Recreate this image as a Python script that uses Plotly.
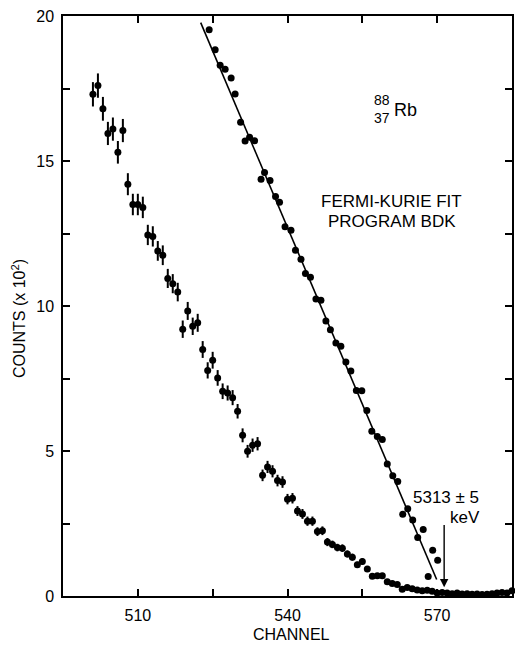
import plotly.graph_objects as go

# ---- data ----
spectrum_channels = list(range(501, 586))
spectrum_counts = [
    17.3, 17.6, 16.8, 15.95, 16.1, 15.3, 16.05, 14.2, 13.5, 13.5,
    13.4, 12.45, 12.4, 11.9, 11.75, 10.95, 10.77, 10.48, 9.2, 9.83,
    9.3, 9.42, 8.5, 7.78, 8.13, 7.52, 7.06, 7.0, 6.84, 6.37,
    5.54, 4.99, 5.2, 5.25, 4.16, 4.45, 4.3, 3.98, 3.93, 3.34,
    3.37, 2.93, 2.83, 2.58, 2.58, 2.22, 2.25, 1.86, 1.78, 1.67,
    1.65, 1.45, 1.34, 1.08, 1.19, 0.93, 0.68, 0.70, 0.70, 0.49,
    0.43, 0.40, 0.23, 0.29, 0.25, 0.21, 0.18, 0.20, 0.16, 0.10,
    0.12, 0.10, 0.08, 0.10, 0.07, 0.08, 0.06, 0.07, 0.05, 0.06,
    0.08, 0.10, 0.12, 0.10, 0.18,
]
spectrum_errors = [
    0.42, 0.42, 0.41, 0.40, 0.40, 0.39, 0.40, 0.38, 0.37, 0.37,
    0.37, 0.35, 0.35, 0.34, 0.34, 0.33, 0.33, 0.32, 0.30, 0.31,
    0.30, 0.31, 0.29, 0.28, 0.29, 0.27, 0.27, 0.26, 0.26, 0.25,
    0.24, 0.22, 0.23, 0.23, 0.20, 0.21, 0.21, 0.20, 0.20, 0.18,
    0.18, 0.17, 0.17, 0.16, 0.16, 0.15, 0.15, 0.14, 0.13, 0.13,
    0.13, 0.12, 0.12, 0.10, 0.11, 0.10, 0.08, 0.08, 0.08, 0.07,
    0.07, 0.06, 0.05, 0.05, 0.05, 0.05, 0.04, 0.04, 0.04, 0.03,
    0.03, 0.03, 0.03, 0.03, 0.03, 0.03, 0.03, 0.03, 0.03, 0.03,
    0.03, 0.03, 0.03, 0.03, 0.03,
]

kurie_channels = [
    524.3, 525.5, 526.5, 527.5, 528.7, 529.5, 530.6, 531.5, 532.4, 533.4,
    534.7, 535.4, 536.5, 537.6, 538.4, 539.5, 540.7, 541.6, 542.7, 543.6,
    544.6, 545.7, 546.7, 547.7, 548.6, 549.7, 550.7, 551.7, 552.7, 553.8,
    554.9, 555.9, 556.9, 558.0, 559.0, 560.0, 561.1, 562.1, 563.1, 564.1,
    565.1, 566.1, 567.2, 568.2, 569.1, 570.1,
]
kurie_values = [
    19.53, 18.84, 18.30, 18.16, 17.86, 17.31, 16.34, 15.69, 15.82, 15.70,
    14.37, 14.60, 14.33, 13.78, 13.58, 12.73, 12.61, 11.92, 11.61, 11.12,
    10.99, 10.24, 10.20, 9.48, 9.18, 8.72, 8.61, 8.07, 7.76, 7.09,
    7.08, 6.40, 5.68, 5.50, 5.40, 4.55, 4.15, 3.95, 2.82, 3.01,
    2.62, 2.02, 2.29, 0.67, 1.58, 1.23,
]

fit_channels = [522.6, 569.9]
fit_values = [19.77, 0.57]

endpoint_channel = 571.4
endpoint_label = "5313 ± 5"

x_tickvals = [510, 540, 570]
x_minor_tickvals = [525, 555]
y_tickvals = [0, 5, 10, 15, 20]
y_minor_tickvals = [2.5, 7.5, 12.5, 17.5]

FONT = "Liberation Sans, Arial, sans-serif"

fig = go.Figure()

fig.add_trace(go.Scatter(
    x=spectrum_channels, y=spectrum_counts,
    mode="markers",
    marker=dict(color="black", size=7),
    error_y=dict(type="data", array=spectrum_errors, color="black",
                 thickness=2, width=0),
    cliponaxis=False,
    showlegend=False,
))

fig.add_trace(go.Scatter(
    x=fit_channels, y=fit_values,
    mode="lines",
    line=dict(color="black", width=1.6),
    showlegend=False,
))

fig.add_trace(go.Scatter(
    x=kurie_channels, y=kurie_values,
    mode="markers",
    marker=dict(color="black", size=7),
    cliponaxis=False,
    showlegend=False,
))

ann = []
ann.append(dict(x=560.9, y=13.59, xref="x", yref="y", text="FERMI-KURIE FIT",
                showarrow=False, font=dict(size=17, color="black", family=FONT)))
ann.append(dict(x=560.9, y=12.92, xref="x", yref="y", text="PROGRAM BDK",
                showarrow=False, font=dict(size=17, color="black", family=FONT)))
ann.append(dict(x=560.9, y=16.76, xref="x", yref="y", text="Rb", xanchor="left",
                showarrow=False, font=dict(size=18, color="black", family=FONT)))
ann.append(dict(x=560.9, y=17.12, xref="x", yref="y", text="88", xanchor="right",
                showarrow=False, font=dict(size=14, color="black", family=FONT)))
ann.append(dict(x=560.9, y=16.48, xref="x", yref="y", text="37", xanchor="right",
                showarrow=False, font=dict(size=14, color="black", family=FONT)))
ann.append(dict(x=571.8, y=3.41, xref="x", yref="y", text=endpoint_label,
                showarrow=False, font=dict(size=17, color="black", family=FONT)))
ann.append(dict(x=578.9, y=2.72, xref="x", yref="y", text="keV", xanchor="right",
                showarrow=False, font=dict(size=17, color="black", family=FONT)))
ann.append(dict(x=endpoint_channel, y=0.3, xref="x", yref="y",
                ax=endpoint_channel, ay=2.5, axref="x", ayref="y",
                text="", showarrow=True, arrowhead=2, arrowsize=1.2,
                arrowwidth=1.4, arrowcolor="black"))
ann.append(dict(x=0.508, y=-0.066, xref="paper", yref="paper", text="CHANNEL",
                yanchor="middle",
                showarrow=False, font=dict(size=16, color="black", family=FONT)))
ann.append(dict(x=-0.125, y=0.479, xref="paper", yref="paper",
                text="COUNTS (x 10<sup>2</sup>)", textangle=-90,
                showarrow=False, font=dict(size=16, color="black", family=FONT)))

fig.update_layout(
    width=515, height=650,
    margin=dict(l=63, r=1, t=16, b=54),
    paper_bgcolor="white", plot_bgcolor="white",
    font=dict(family=FONT, color="black", size=15),
    annotations=ann,
    showlegend=False,
)
fig.update_xaxes(
    range=[495, 585], tickmode="array", tickvals=x_tickvals,
    ticks="inside", ticklen=7, tickwidth=1.5, tickcolor="black",
    minor=dict(tickmode="array", tickvals=x_minor_tickvals, ticks="inside",
               ticklen=7, tickwidth=1.5, tickcolor="black", showgrid=False),
    showline=True, linecolor="black", linewidth=1.5, mirror="ticks",
    showgrid=False, zeroline=False, ticklabelstandoff=4,
    tickfont=dict(size=16, color="black", family=FONT),
)
fig.update_yaxes(
    range=[0, 20], tickmode="array", tickvals=y_tickvals,
    ticks="inside", ticklen=7, tickwidth=1.5, tickcolor="black",
    minor=dict(tickmode="array", tickvals=y_minor_tickvals, ticks="inside",
               ticklen=7, tickwidth=1.5, tickcolor="black", showgrid=False),
    showline=True, linecolor="black", linewidth=1.5, mirror="ticks",
    showgrid=False, zeroline=False, ticklabelstandoff=4,
    tickfont=dict(size=16, color="black", family=FONT),
)

fig.write_html("out.html")
